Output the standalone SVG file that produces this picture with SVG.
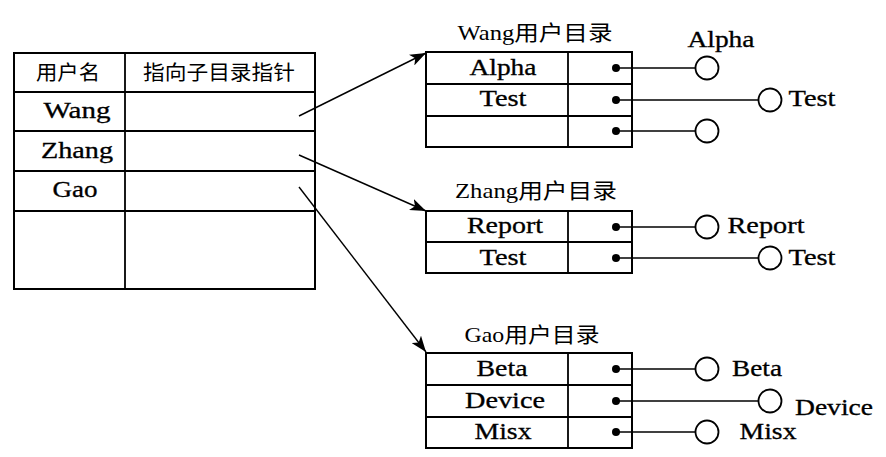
<svg xmlns="http://www.w3.org/2000/svg" width="886" height="457" viewBox="0 0 886 457">
<style>
.t{font-family:"Liberation Serif","Noto Sans CJK SC",serif;font-size:22.5px;fill:#000;stroke:#000;stroke-width:0.3;text-anchor:middle}
.c{font-family:"Liberation Serif","Noto Sans CJK SC",serif;font-size:20px;fill:#000;text-anchor:middle}
.h{font-family:"Liberation Serif","Noto Sans CJK SC",serif;font-size:21px;fill:#000;text-anchor:middle}
.box{fill:none;stroke:#000;stroke-width:2}
.ln{stroke:#000;stroke-width:1.8;fill:none}
.lk{stroke:#000;stroke-width:1.4;fill:none}
.dot{fill:#000}
.cir{fill:#fff;stroke:#000;stroke-width:1.8}
</style>
<defs>
<marker id="ah" markerUnits="userSpaceOnUse" markerWidth="18" markerHeight="12" refX="16" refY="6" orient="auto">
<path d="M0,0 L16,6 L0,12 L4,6 z" fill="#000"/>
</marker>
</defs>
<g id="user-table">
<rect class="box" x="14" y="53" width="301" height="236"/>
<line class="ln" x1="125" y1="53" x2="125" y2="289"/>
<line class="ln" x1="14" y1="92" x2="315" y2="92"/>
<line class="ln" x1="14" y1="131" x2="315" y2="131"/>
<line class="ln" x1="14" y1="171" x2="315" y2="171"/>
<line class="ln" x1="14" y1="211" x2="315" y2="211"/>
<text class="c" x="68" y="80" textLength="64" lengthAdjust="spacingAndGlyphs">用户名</text>
<text class="c" x="219" y="80" textLength="152" lengthAdjust="spacingAndGlyphs">指向子目录指针</text>
<text class="t" x="77" y="118" textLength="67" lengthAdjust="spacingAndGlyphs">Wang</text>
<text class="t" x="77" y="158" textLength="72" lengthAdjust="spacingAndGlyphs">Zhang</text>
<text class="t" x="75" y="197" textLength="45" lengthAdjust="spacingAndGlyphs">Gao</text>
</g>
<g id="wang-dir">
<text class="h" x="535" y="40" textLength="155" lengthAdjust="spacingAndGlyphs">Wang用户目录</text>
<rect class="box" x="426" y="52" width="206" height="95"/>
<line class="ln" x1="568" y1="52" x2="568" y2="147"/>
<line class="ln" x1="426" y1="84" x2="632" y2="84"/>
<line class="ln" x1="426" y1="116" x2="632" y2="116"/>
<text class="t" x="503" y="75" textLength="67" lengthAdjust="spacingAndGlyphs">Alpha</text>
<text class="t" x="503" y="106" textLength="47" lengthAdjust="spacingAndGlyphs">Test</text>
</g>
<g id="zhang-dir">
<text class="h" x="536" y="198" textLength="162" lengthAdjust="spacingAndGlyphs">Zhang用户目录</text>
<rect class="box" x="426" y="211" width="206" height="62"/>
<line class="ln" x1="568" y1="211" x2="568" y2="273"/>
<line class="ln" x1="426" y1="242" x2="632" y2="242"/>
<text class="t" x="505" y="233" textLength="76" lengthAdjust="spacingAndGlyphs">Report</text>
<text class="t" x="503" y="265" textLength="47" lengthAdjust="spacingAndGlyphs">Test</text>
</g>
<g id="gao-dir">
<text class="h" x="532" y="342" textLength="135" lengthAdjust="spacingAndGlyphs">Gao用户目录</text>
<rect class="box" x="426" y="353" width="206" height="95"/>
<line class="ln" x1="568" y1="353" x2="568" y2="448"/>
<line class="ln" x1="426" y1="385" x2="632" y2="385"/>
<line class="ln" x1="426" y1="417" x2="632" y2="417"/>
<text class="t" x="502" y="376" textLength="51" lengthAdjust="spacingAndGlyphs">Beta</text>
<text class="t" x="505" y="408" textLength="80" lengthAdjust="spacingAndGlyphs">Device</text>
<text class="t" x="503" y="439" textLength="57" lengthAdjust="spacingAndGlyphs">Misx</text>
</g>
<g id="connectors">
<line class="lk" x1="299" y1="116" x2="426" y2="53" marker-end="url(#ah)"/>
<line class="lk" x1="299" y1="155" x2="426" y2="211" marker-end="url(#ah)"/>
<line class="lk" x1="299" y1="187" x2="426" y2="352" marker-end="url(#ah)"/>
<line class="lk" x1="616" y1="68" x2="695" y2="68"/>
<line class="lk" x1="616" y1="100" x2="758" y2="100"/>
<line class="lk" x1="616" y1="131" x2="695" y2="131"/>
<line class="lk" x1="616" y1="227" x2="695" y2="227"/>
<line class="lk" x1="616" y1="258" x2="758" y2="258"/>
<line class="lk" x1="616" y1="369" x2="695" y2="369"/>
<line class="lk" x1="616" y1="401" x2="758" y2="401"/>
<line class="lk" x1="616" y1="432" x2="695" y2="432"/>
</g>
<g id="wang-files">
<circle class="dot" cx="616" cy="68" r="4"/>
<circle class="dot" cx="616" cy="100" r="4"/>
<circle class="dot" cx="616" cy="131" r="4"/>
<circle class="cir" cx="707" cy="68" r="11.5"/>
<circle class="cir" cx="770" cy="100" r="11.5"/>
<circle class="cir" cx="707" cy="131" r="11.5"/>
<text class="t" x="721" y="47" textLength="67" lengthAdjust="spacingAndGlyphs">Alpha</text>
<text class="t" x="812" y="106" textLength="47" lengthAdjust="spacingAndGlyphs">Test</text>
</g>
<g id="zhang-files">
<circle class="dot" cx="616" cy="227" r="4"/>
<circle class="dot" cx="616" cy="258" r="4"/>
<circle class="cir" cx="707" cy="227" r="11.5"/>
<circle class="cir" cx="770" cy="258" r="11.5"/>
<text class="t" x="766" y="233" textLength="77" lengthAdjust="spacingAndGlyphs">Report</text>
<text class="t" x="812" y="265" textLength="47" lengthAdjust="spacingAndGlyphs">Test</text>
</g>
<g id="gao-files">
<circle class="dot" cx="616" cy="369" r="4"/>
<circle class="dot" cx="616" cy="401" r="4"/>
<circle class="dot" cx="616" cy="432" r="4"/>
<circle class="cir" cx="707" cy="369" r="11.5"/>
<circle class="cir" cx="770" cy="401" r="11.5"/>
<circle class="cir" cx="707" cy="432" r="11.5"/>
<text class="t" x="757" y="376" textLength="50" lengthAdjust="spacingAndGlyphs">Beta</text>
<text class="t" x="834" y="415" textLength="78" lengthAdjust="spacingAndGlyphs">Device</text>
<text class="t" x="768" y="439" textLength="57" lengthAdjust="spacingAndGlyphs">Misx</text>
</g>
</svg>
